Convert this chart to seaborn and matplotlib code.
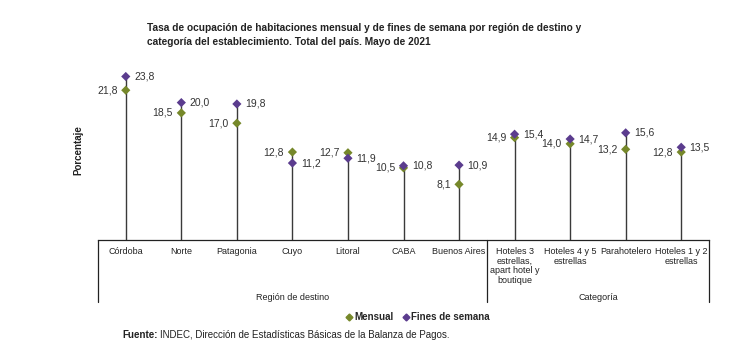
import pandas as pd
import matplotlib.pyplot as plt
import matplotlib.transforms as mtransforms
from matplotlib.lines import Line2D
import seaborn as sns

categorias = ["Córdoba", "Norte", "Patagonia", "Cuyo", "Litoral", "CABA", "Buenos Aires",
              "Hoteles 3\nestrellas,\napart hotel y\nboutique", "Hoteles 4 y 5\nestrellas",
              "Parahotelero", "Hoteles 1 y 2\nestrellas"]
mensual = [21.8, 18.5, 17.0, 12.8, 12.7, 10.5, 8.1, 14.9, 14.0, 13.2, 12.8]
fines = [23.8, 20.0, 19.8, 11.2, 11.9, 10.8, 10.9, 15.4, 14.7, 15.6, 13.5]
grupos = ["Región de destino", "Categoría"]
grupo_n = [7, 4]

verde = "#76882a"
violeta = "#5b3c8e"

sns.set_style("white")
plt.rcParams['font.family'] = ['Liberation Sans', 'DejaVu Sans']

df = pd.DataFrame({
    "x": list(range(len(categorias))) * 2,
    "valor": mensual + fines,
    "serie": ["Mensual"] * len(mensual) + ["Fines de semana"] * len(fines),
})

fig = plt.figure(figsize=(7.39, 3.60), dpi=100)
ax = fig.add_axes([98 / 739, 1 - 240 / 360, (709 - 98) / 739, (240 - 60) / 360])

x = list(range(len(categorias)))
tops = [max(a, b) for a, b in zip(mensual, fines)]
ax.vlines(x, 0, tops, color="#3a3a3a", linewidth=1, zorder=1)

sns.scatterplot(data=df, x="x", y="valor", hue="serie", palette={"Mensual": verde, "Fines de semana": violeta},
                marker="D", s=22, edgecolor="none", legend=False, ax=ax, zorder=3)

for i, (m, f) in enumerate(zip(mensual, fines)):
    ax.annotate(f"{m:.1f}".replace(".", ","), (i, m), xytext=(-6, 0), textcoords="offset points",
                ha="right", va="center", fontsize=7.5, color="#333333")
    ax.annotate(f"{f:.1f}".replace(".", ","), (i, f), xytext=(6, 0), textcoords="offset points",
                ha="left", va="center", fontsize=7.5, color="#333333")

ax.set_xlim(-0.5, len(categorias) - 0.5)
ax.set_ylim(0, 26.2)
ax.set_xticks(x)
ax.set_xticklabels(categorias, fontsize=6.5, linespacing=1.1, color="#222222")
ax.tick_params(axis="x", length=0, pad=5)
ax.set_yticks([])
ax.set_xlabel("")
ax.set_ylabel("")
for s in ["top", "right", "left"]:
    ax.spines[s].set_visible(False)
ax.spines["bottom"].set_color("#222222")
ax.spines["bottom"].set_linewidth(0.9)

# separadores y etiquetas de grupo
trans = mtransforms.blended_transform_factory(ax.transData, ax.transAxes)
bajo = -62 / 180
inicio = -0.5
for g, n in zip(grupos, grupo_n):
    ax.plot([inicio, inicio], [0, bajo], color="#222222", linewidth=0.9, transform=trans, clip_on=False)
    ax.text(inicio + n / 2, -57 / 180, g, transform=trans, ha="center", va="center", fontsize=6.5,
            color="#222222")
    inicio += n
ax.plot([inicio, inicio], [0, bajo], color="#222222", linewidth=0.9, transform=trans, clip_on=False)

fig.text(147 / 739, 1 - 23 / 360,
         "Tasa de ocupación de habitaciones mensual y de fines de semana por región de destino y\n"
         "categoría del establecimiento. Total del país. Mayo de 2021",
         ha="left", va="top", fontsize=7.3, fontweight="bold", linespacing=1.55,
         family=['Liberation Sans Narrow', 'Liberation Sans', 'DejaVu Sans'], color="#222222")

fig.text(78 / 739, 1 - 150 / 360, "Porcentaje", rotation=90, ha="center", va="center",
         fontsize=7, fontweight="bold", color="#222222")

handles = [Line2D([], [], marker="D", linestyle="none", color=verde, markersize=3.5),
           Line2D([], [], marker="D", linestyle="none", color=violeta, markersize=3.5)]
fig.legend(handles, ["Mensual", "Fines de semana"], loc="center", bbox_to_anchor=(418 / 739, 1 - 317 / 360),
           ncol=2, frameon=False, handlelength=0.6, handletextpad=0.2, columnspacing=1.0,
           prop={"size": 7, "weight": "bold"})

t1 = fig.text(122 / 739, 1 - 335 / 360, "Fuente:", ha="left", va="center", fontsize=7,
              fontweight="bold", color="#222222")
fig.canvas.draw()
bb = t1.get_window_extent()
fig.text((bb.x1 + 3) / 739, 1 - 335 / 360, "INDEC, Dirección de Estadísticas Básicas de la Balanza de Pagos.",
         ha="left", va="center", fontsize=7, color="#222222")

fig.savefig("out.png", dpi=100)
